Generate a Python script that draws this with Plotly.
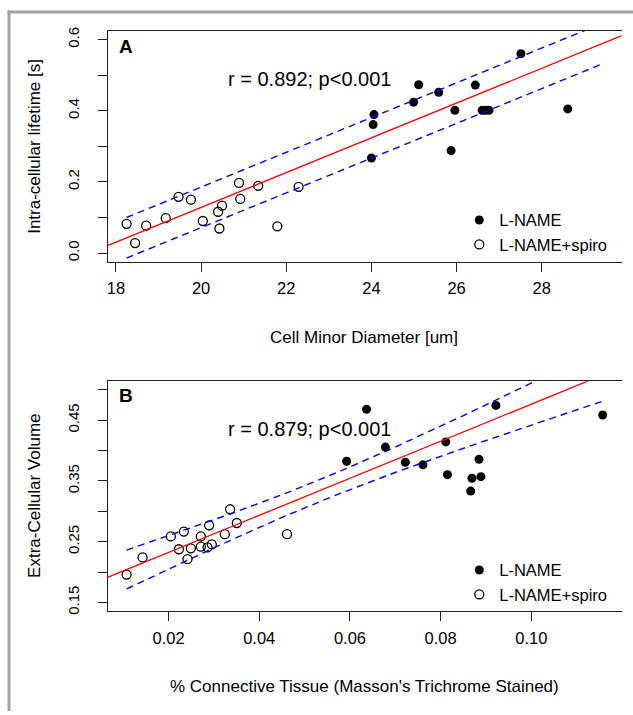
import numpy as np
import plotly.graph_objects as go

# ---------------- Panel A data ----------------
diam_lname = [24.00, 24.04, 24.06, 24.99, 25.11, 25.58, 25.87, 25.96, 26.44,
              26.60, 26.68, 26.76, 27.51, 28.61, 29.43]
life_lname = [0.267, 0.361, 0.389, 0.424, 0.473, 0.452, 0.288, 0.401, 0.472,
              0.401, 0.401, 0.401, 0.560, 0.405, 0.639]
diam_spiro = [18.25, 18.45, 18.71, 19.17, 19.47, 19.76, 20.04, 20.40, 20.43,
              20.49, 20.89, 20.92, 21.34, 21.79, 22.29]
life_spiro = [0.082, 0.028, 0.077, 0.098, 0.158, 0.150, 0.090, 0.116, 0.069,
              0.133, 0.197, 0.152, 0.189, 0.075, 0.186]

# ---------------- Panel B data ----------------
conn_lname = [0.06366, 0.05927, 0.06782, 0.07221, 0.07609, 0.08113, 0.08150,
              0.08662, 0.08691, 0.08845, 0.08888, 0.09218, 0.11572]
ecv_lname = [0.4677, 0.3823, 0.4056, 0.3807, 0.3764, 0.4142, 0.3603,
             0.3332, 0.3543, 0.3855, 0.3570, 0.4742, 0.4584]
conn_spiro = [0.01075, 0.01428, 0.02051, 0.02228, 0.02338, 0.02418, 0.02492,
              0.02712, 0.02712, 0.02859, 0.02954, 0.02895, 0.03240, 0.03358,
              0.03505, 0.04613]
ecv_spiro = [0.1959, 0.2240, 0.2586, 0.2375, 0.2666, 0.2213, 0.2391,
             0.2586, 0.2418, 0.2407, 0.2456, 0.2769, 0.2623, 0.3033,
             0.2807, 0.2623]

# regression lines (intercept, slope) and band half-width (a, b, x_center)
fit_A = [-0.8484, 0.04884]
band_A = [0.057, 0.0, 23.1]
fit_B = [0.1713, 3.05]
band_B = [0.018, 0.625, 0.053]

ylim_A = [0.0, 0.6]
ylim_B = [0.15, 0.5]
xticks_A = [18, 20, 22, 24, 26, 28]
yticks_A = [0.0, 0.1, 0.2, 0.3, 0.4, 0.5, 0.6]
yticklabels_A = ["0.0", "", "0.2", "", "0.4", "", "0.6"]
xticks_B = [0.02, 0.04, 0.06, 0.08, 0.10]
xticklabels_B = ["0.02", "0.04", "0.06", "0.08", "0.10"]
yticks_B = [0.15, 0.20, 0.25, 0.30, 0.35, 0.40, 0.45, 0.50]
yticklabels_B = ["0.15", "", "0.25", "", "0.35", "", "0.45", ""]

stat_A = "r = 0.892; p<0.001"
stat_B = "r = 0.879; p<0.001"
legend_names = ["L-NAME", "L-NAME+spiro"]

W, H = 633, 715
FONT = "Liberation Sans, Arial, Helvetica, sans-serif"


def px_x(p):
    return p / W


def px_y(p):
    return 1 - p / H


def rng(vals):
    lo, hi = min(vals), max(vals)
    s = hi - lo
    return [lo - 0.04 * s, hi + 0.04 * s]


fig = go.Figure()

panels = [
    dict(xa="x", ya="y", xl=diam_lname, yl=life_lname, xs=diam_spiro, ys=life_spiro,
         fit=fit_A, band=band_A, leg="legend"),
    dict(xa="x2", ya="y2", xl=conn_lname, yl=ecv_lname, xs=conn_spiro, ys=ecv_spiro,
         fit=fit_B, band=band_B, leg="legend2"),
]

for p in panels:
    allx = list(p["xl"]) + list(p["xs"])
    xr = rng(allx)
    fig.add_trace(go.Scatter(x=p["xl"], y=p["yl"], mode="markers", xaxis=p["xa"], yaxis=p["ya"],
                             marker=dict(symbol="circle", size=9, color="black"),
                             name=legend_names[0], legend=p["leg"]))
    fig.add_trace(go.Scatter(x=p["xs"], y=p["ys"], mode="markers", xaxis=p["xa"], yaxis=p["ya"],
                             marker=dict(symbol="circle-open", size=9, color="black",
                                         line=dict(width=1.3, color="black")),
                             name=legend_names[1], legend=p["leg"]))
    xf = np.linspace(xr[0], xr[1], 50)
    yf = p["fit"][0] + p["fit"][1] * xf
    fig.add_trace(go.Scatter(x=xf, y=yf, mode="lines", xaxis=p["xa"], yaxis=p["ya"],
                             line=dict(color="#ff0000", width=1.3), showlegend=False,
                             hoverinfo="skip"))
    xb = np.linspace(min(allx), max(allx), 200)
    yb = p["fit"][0] + p["fit"][1] * xb
    a, b, xc = p["band"]
    hw = np.sqrt(a ** 2 + (b * (xb - xc)) ** 2)
    for sgn in (1, -1):
        fig.add_trace(go.Scatter(x=xb, y=yb + sgn * hw, mode="lines", xaxis=p["xa"], yaxis=p["ya"],
                                 line=dict(color="#0000ff", width=1.4, dash="7px,5px"),
                                 showlegend=False, hoverinfo="skip"))

xdom = [px_x(106.7), px_x(621.7)]
ax_common = dict(showgrid=False, zeroline=False, showline=True, linecolor="#222",
                 linewidth=1, ticks="outside", ticklen=9, tickwidth=1, tickcolor="#222",
                 tickfont=dict(family=FONT, size=16.5, color="black"))

yrA = [ylim_A[0] - 0.04 * (ylim_A[1] - ylim_A[0]), ylim_A[1] + 0.04 * (ylim_A[1] - ylim_A[0])]
yrB = [ylim_B[0] - 0.04 * (ylim_B[1] - ylim_B[0]), ylim_B[1] + 0.04 * (ylim_B[1] - ylim_B[0])]

fig.update_layout(
    width=W, height=H, margin=dict(l=0, r=0, t=0, b=0),
    paper_bgcolor="white", plot_bgcolor="white",
    font=dict(family=FONT, color="black"),
    hovermode=False,
    xaxis=dict(ax_common, domain=xdom, anchor="y", range=rng(diam_lname + diam_spiro),
               tickvals=xticks_A, ticktext=[str(v) for v in xticks_A], mirror=True,
               ticklabelstandoff=3),
    yaxis=dict(ax_common, domain=[px_y(260.5), px_y(27.3)], anchor="x", range=yrA,
               tickvals=yticks_A, ticktext=yticklabels_A, tickangle=-90,
               tickfont=dict(family=FONT, size=15, color="black"), ticklabelstandoff=13),
    xaxis2=dict(ax_common, domain=xdom, anchor="y2", range=rng(conn_lname + conn_spiro),
                tickvals=xticks_B, ticktext=xticklabels_B, mirror=True,
                ticklabelstandoff=3),
    yaxis2=dict(ax_common, domain=[px_y(613.8), px_y(381.5)], anchor="x2", range=yrB,
                tickvals=yticks_B, ticktext=yticklabels_B, tickangle=-90,
                tickfont=dict(family=FONT, size=15, color="black"), ticklabelstandoff=13),
    legend=dict(x=px_x(459), y=px_y(201), xanchor="left", yanchor="top",
                bgcolor="rgba(0,0,0,0)", font=dict(family=FONT, size=16.5, color="black"),
                tracegroupgap=0, itemwidth=30),
    legend2=dict(x=px_x(459), y=px_y(555), xanchor="left", yanchor="top",
                 bgcolor="rgba(0,0,0,0)", font=dict(family=FONT, size=16.5, color="black"),
                 tracegroupgap=0, itemwidth=30),
    showlegend=True,
)

annos = [
    dict(text="<b>A</b>", x=px_x(125), y=px_y(43), size=19),
    dict(text="<b>B</b>", x=px_x(125), y=px_y(395.5), size=19),
    dict(text=stat_A, x=px_x(309), y=px_y(75.5), size=20),
    dict(text=stat_B, x=px_x(309), y=px_y(430), size=20),
    dict(text="Cell Minor Diameter [um]", x=px_x(364), y=px_y(337), size=17),
    dict(text="% Connective Tissue (Masson's Trichrome Stained)", x=px_x(364), y=px_y(690), size=17),
    dict(text="Intra-cellular lifetime [s]", x=px_x(33.5), y=px_y(144), size=17, angle=-90),
    dict(text="Extra-Cellular Volume", x=px_x(33.5), y=px_y(497), size=17, angle=-90),
]
for a in annos:
    fig.add_annotation(text=a["text"], x=a["x"], y=a["y"], xref="paper", yref="paper",
                       xanchor="center", yanchor="middle", showarrow=False,
                       textangle=a.get("angle", 0),
                       font=dict(family=FONT, size=a["size"], color="black"))

# outer gray frame (top and left)
fig.add_shape(type="line", xref="paper", yref="paper", x0=px_x(6.5), x1=1.0,
              y0=px_y(8), y1=px_y(8), line=dict(color="#a3a3a3", width=3))
fig.add_shape(type="line", xref="paper", yref="paper", x0=px_x(8), x1=px_x(8),
              y0=px_y(6.5), y1=0.0, line=dict(color="#a3a3a3", width=3))

fig.write_html("out.html", config={"displayModeBar": False},
               post_script="document.body.style.margin='0';document.body.style.overflow='hidden';")
